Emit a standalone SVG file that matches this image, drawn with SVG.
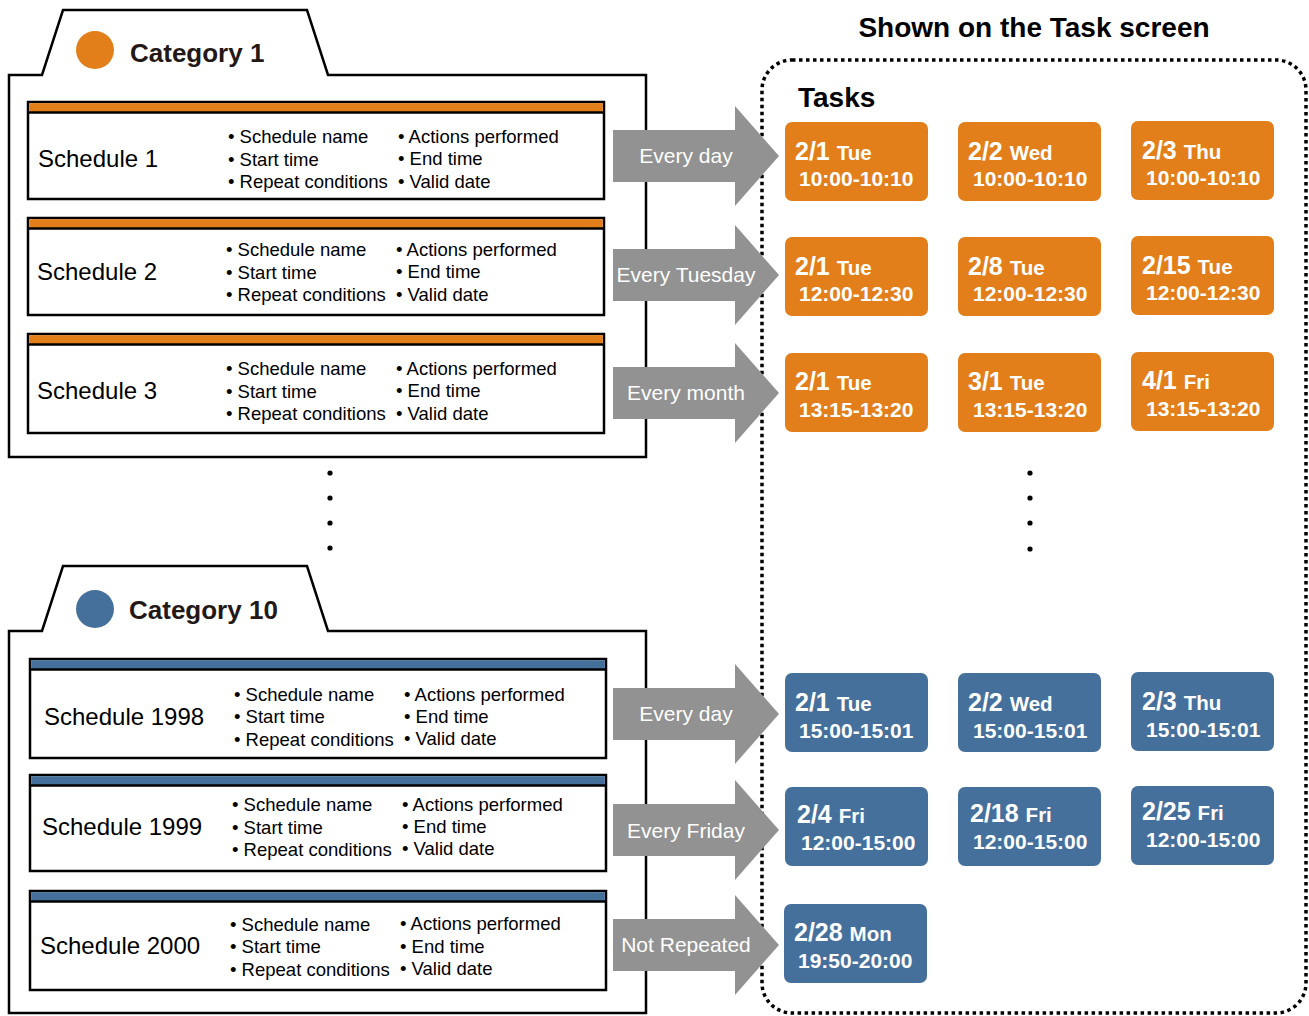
<svg xmlns="http://www.w3.org/2000/svg" width="1309" height="1016" viewBox="0 0 1309 1016">
<defs>
<style>
.panel{fill:#fff;stroke:#000;stroke-width:2.5;stroke-linejoin:miter}
.sbox{fill:#fff;stroke:#000;stroke-width:2.5}
.bar-o{fill:#E27F1B}
.bar-b{fill:#46709C}
.sep{stroke:#000;stroke-width:2.5}
.cat{font-family:"Liberation Sans",Arial,sans-serif;font-weight:bold;font-size:26px;fill:#231815}
.sname{font-family:"Liberation Sans",Arial,sans-serif;font-size:24px;fill:#000}
.bul{font-family:"Liberation Sans",Arial,sans-serif;font-size:18.5px;fill:#000}
.arrow{fill:#929292}
.atxt{font-family:"Liberation Sans",Arial,sans-serif;font-size:21px;fill:#fff;text-anchor:middle}
.task-o{fill:#E27F1B}
.task-b{fill:#46709C}
.td{font-family:"Liberation Sans",Arial,sans-serif;font-weight:bold;font-size:25px;fill:#fff}
.tday{font-size:20.5px}
.tt{font-family:"Liberation Sans",Arial,sans-serif;font-weight:bold;font-size:21px;fill:#fff}
.title{font-family:"Liberation Sans",Arial,sans-serif;font-weight:bold;font-size:28px;fill:#000}
.dot{fill:#000}
</style>
</defs>
<rect width="1309" height="1016" fill="#fff"/>

<!-- Category 1 -->
<g id="category1">
<path class="panel" d="M9,75 L42,75 L63,10 L307,10 L328,75 L646,75 L646,457 L9,457 Z"/>
<circle cx="95" cy="50" r="19" fill="#E27F1B"/>
<text class="cat" x="130" y="62">Category 1</text>
</g>

<g id="schedule1">
<rect class="sbox" x="28" y="102" width="576" height="97"/>
<rect class="bar-o" x="29.2" y="103.2" width="573.6" height="8.8"/>
<line class="sep" x1="28" y1="112.5" x2="604" y2="112.5"/>
<text class="sname" x="38" y="167">Schedule 1</text>
<text class="bul" x="228" y="143">• Schedule name</text>
<text class="bul" x="228" y="166">• Start time</text>
<text class="bul" x="228" y="188">• Repeat conditions</text>
<text class="bul" x="398" y="143">• Actions performed</text>
<text class="bul" x="398" y="165">• End time</text>
<text class="bul" x="398" y="188">• Valid date</text>
</g>

<g id="schedule2">
<rect class="sbox" x="28" y="218" width="576" height="97"/>
<rect class="bar-o" x="29.2" y="219.2" width="573.6" height="8.8"/>
<line class="sep" x1="28" y1="228.5" x2="604" y2="228.5"/>
<text class="sname" x="37" y="280">Schedule 2</text>
<text class="bul" x="226" y="256">• Schedule name</text>
<text class="bul" x="226" y="279">• Start time</text>
<text class="bul" x="226" y="301">• Repeat conditions</text>
<text class="bul" x="396" y="256">• Actions performed</text>
<text class="bul" x="396" y="278">• End time</text>
<text class="bul" x="396" y="301">• Valid date</text>
</g>

<g id="schedule3">
<rect class="sbox" x="28" y="334" width="576" height="99"/>
<rect class="bar-o" x="29.2" y="335.2" width="573.6" height="8.8"/>
<line class="sep" x1="28" y1="344.5" x2="604" y2="344.5"/>
<text class="sname" x="37" y="399">Schedule 3</text>
<text class="bul" x="226" y="375">• Schedule name</text>
<text class="bul" x="226" y="398">• Start time</text>
<text class="bul" x="226" y="420">• Repeat conditions</text>
<text class="bul" x="396" y="375">• Actions performed</text>
<text class="bul" x="396" y="397">• End time</text>
<text class="bul" x="396" y="420">• Valid date</text>
</g>

<g id="ellipsis-left">
<circle class="dot" cx="330" cy="473" r="2.6"/>
<circle class="dot" cx="330" cy="498" r="2.6"/>
<circle class="dot" cx="330" cy="523" r="2.6"/>
<circle class="dot" cx="330" cy="548" r="2.6"/>
</g>

<!-- Category 10 -->
<g id="category10">
<path class="panel" d="M9,631 L42,631 L63,566 L307,566 L328,631 L646,631 L646,1013 L9,1013 Z"/>
<circle cx="95" cy="609" r="19" fill="#46709C"/>
<text class="cat" x="129" y="619">Category 10</text>
</g>

<g id="schedule1998">
<rect class="sbox" x="30" y="659" width="576" height="99"/>
<rect class="bar-b" x="31.2" y="660.2" width="573.6" height="8.8"/>
<line class="sep" x1="30" y1="669.5" x2="606" y2="669.5"/>
<text class="sname" x="44" y="725">Schedule 1998</text>
<text class="bul" x="234" y="701">• Schedule name</text>
<text class="bul" x="234" y="723">• Start time</text>
<text class="bul" x="234" y="746">• Repeat conditions</text>
<text class="bul" x="404" y="701">• Actions performed</text>
<text class="bul" x="404" y="723">• End time</text>
<text class="bul" x="404" y="745">• Valid date</text>
</g>

<g id="schedule1999">
<rect class="sbox" x="30" y="775" width="576" height="96"/>
<rect class="bar-b" x="31.2" y="776.2" width="573.6" height="8.8"/>
<line class="sep" x1="30" y1="785.5" x2="606" y2="785.5"/>
<text class="sname" x="42" y="835">Schedule 1999</text>
<text class="bul" x="232" y="811">• Schedule name</text>
<text class="bul" x="232" y="834">• Start time</text>
<text class="bul" x="232" y="856">• Repeat conditions</text>
<text class="bul" x="402" y="811">• Actions performed</text>
<text class="bul" x="402" y="833">• End time</text>
<text class="bul" x="402" y="855">• Valid date</text>
</g>

<g id="schedule2000">
<rect class="sbox" x="30" y="891" width="576" height="99"/>
<rect class="bar-b" x="31.2" y="892.2" width="573.6" height="8.8"/>
<line class="sep" x1="30" y1="901.5" x2="606" y2="901.5"/>
<text class="sname" x="40" y="954">Schedule 2000</text>
<text class="bul" x="230" y="931">• Schedule name</text>
<text class="bul" x="230" y="953">• Start time</text>
<text class="bul" x="230" y="976">• Repeat conditions</text>
<text class="bul" x="400" y="930">• Actions performed</text>
<text class="bul" x="400" y="953">• End time</text>
<text class="bul" x="400" y="975">• Valid date</text>
</g>

<!-- Task screen -->
<g id="task-screen">
<text class="title" x="1034" y="37" text-anchor="middle">Shown on the Task screen</text>
<rect x="762" y="60" width="544" height="953" rx="30" ry="30" fill="none" stroke="#000" stroke-width="3.5" stroke-dasharray="3.5 3.5"/>
<text class="title" x="798" y="107">Tasks</text>
</g>

<g id="task-r1c1"><rect class="task-o" x="785" y="122" width="143" height="79" rx="7"/><text class="td" x="795" y="160">2/1 <tspan class="tday">Tue</tspan></text><text class="tt" x="799" y="186">10:00-10:10</text></g>
<g id="task-r1c2"><rect class="task-o" x="958" y="122" width="143" height="79" rx="7"/><text class="td" x="968" y="160">2/2 <tspan class="tday">Wed</tspan></text><text class="tt" x="973" y="186">10:00-10:10</text></g>
<g id="task-r1c3"><rect class="task-o" x="1131" y="121" width="143" height="79" rx="7"/><text class="td" x="1142" y="159">2/3 <tspan class="tday">Thu</tspan></text><text class="tt" x="1146" y="185">10:00-10:10</text></g>

<g id="task-r2c1"><rect class="task-o" x="785" y="237" width="143" height="79" rx="7"/><text class="td" x="795" y="275">2/1 <tspan class="tday">Tue</tspan></text><text class="tt" x="799" y="301">12:00-12:30</text></g>
<g id="task-r2c2"><rect class="task-o" x="958" y="237" width="143" height="79" rx="7"/><text class="td" x="968" y="275">2/8 <tspan class="tday">Tue</tspan></text><text class="tt" x="973" y="301">12:00-12:30</text></g>
<g id="task-r2c3"><rect class="task-o" x="1131" y="236" width="143" height="79" rx="7"/><text class="td" x="1142" y="274">2/15 <tspan class="tday">Tue</tspan></text><text class="tt" x="1146" y="300">12:00-12:30</text></g>

<g id="task-r3c1"><rect class="task-o" x="785" y="353" width="143" height="79" rx="7"/><text class="td" x="795" y="390">2/1 <tspan class="tday">Tue</tspan></text><text class="tt" x="799" y="417">13:15-13:20</text></g>
<g id="task-r3c2"><rect class="task-o" x="958" y="353" width="143" height="79" rx="7"/><text class="td" x="968" y="390">3/1 <tspan class="tday">Tue</tspan></text><text class="tt" x="973" y="417">13:15-13:20</text></g>
<g id="task-r3c3"><rect class="task-o" x="1131" y="352" width="143" height="79" rx="7"/><text class="td" x="1142" y="389">4/1 <tspan class="tday">Fri</tspan></text><text class="tt" x="1146" y="416">13:15-13:20</text></g>

<g id="ellipsis-right">
<circle class="dot" cx="1030" cy="473" r="2.6"/>
<circle class="dot" cx="1030" cy="498" r="2.6"/>
<circle class="dot" cx="1030" cy="523" r="2.6"/>
<circle class="dot" cx="1030" cy="549" r="2.6"/>
</g>

<g id="task-r4c1"><rect class="task-b" x="785" y="673" width="143" height="79" rx="7"/><text class="td" x="795" y="711">2/1 <tspan class="tday">Tue</tspan></text><text class="tt" x="799" y="738">15:00-15:01</text></g>
<g id="task-r4c2"><rect class="task-b" x="958" y="673" width="143" height="79" rx="7"/><text class="td" x="968" y="711">2/2 <tspan class="tday">Wed</tspan></text><text class="tt" x="973" y="738">15:00-15:01</text></g>
<g id="task-r4c3"><rect class="task-b" x="1131" y="672" width="143" height="79" rx="7"/><text class="td" x="1142" y="710">2/3 <tspan class="tday">Thu</tspan></text><text class="tt" x="1146" y="737">15:00-15:01</text></g>

<g id="task-r5c1"><rect class="task-b" x="785" y="787" width="143" height="79" rx="7"/><text class="td" x="797" y="823">2/4 <tspan class="tday">Fri</tspan></text><text class="tt" x="801" y="850">12:00-15:00</text></g>
<g id="task-r5c2"><rect class="task-b" x="958" y="787" width="143" height="79" rx="7"/><text class="td" x="970" y="822">2/18 <tspan class="tday">Fri</tspan></text><text class="tt" x="973" y="849">12:00-15:00</text></g>
<g id="task-r5c3"><rect class="task-b" x="1131" y="786" width="143" height="79" rx="7"/><text class="td" x="1142" y="820">2/25 <tspan class="tday">Fri</tspan></text><text class="tt" x="1146" y="847">12:00-15:00</text></g>

<g id="task-r6c1"><rect class="task-b" x="784" y="904" width="143" height="79" rx="7"/><text class="td" x="794" y="941">2/28 <tspan class="tday">Mon</tspan></text><text class="tt" x="798" y="968">19:50-20:00</text></g>

<!-- connectors -->
<g id="connectors">
<polygon class="arrow" points="613,130 735,130 735,106 779,156 735,206 735,182 613,182"/>
<text class="atxt" x="686" y="163">Every day</text>
<polygon class="arrow" points="613,249 735,249 735,225 779,275 735,325 735,301 613,301"/>
<text class="atxt" x="686" y="282">Every Tuesday</text>
<polygon class="arrow" points="613,367 735,367 735,343 779,393 735,443 735,419 613,419"/>
<text class="atxt" x="686" y="400">Every month</text>
<polygon class="arrow" points="613,688 735,688 735,664 779,714 735,764 735,740 613,740"/>
<text class="atxt" x="686" y="721">Every day</text>
<polygon class="arrow" points="613,804 735,804 735,780 779,830 735,880 735,856 613,856"/>
<text class="atxt" x="686" y="838">Every Friday</text>
<polygon class="arrow" points="613,919 735,919 735,895 779,945 735,995 735,971 613,971"/>
<text class="atxt" x="686" y="952">Not Repeated</text>
</g>
</svg>
